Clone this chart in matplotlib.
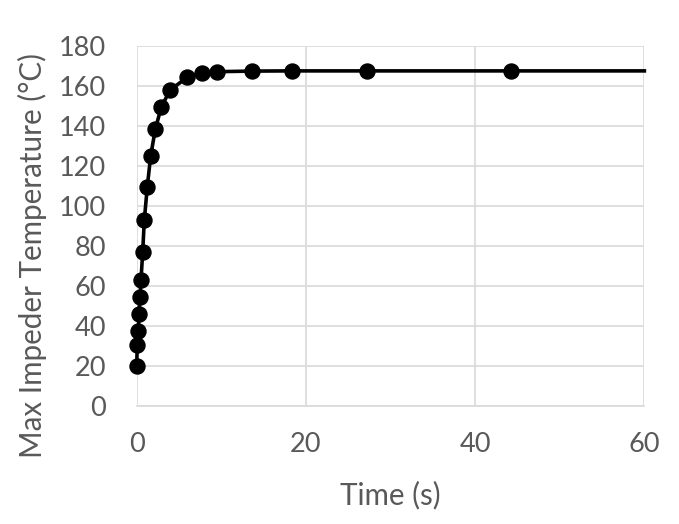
import matplotlib
matplotlib.use("Agg")
import matplotlib.pyplot as plt

time_s = [0.0, 0.07, 0.19, 0.27, 0.39, 0.51, 0.71, 0.9, 1.25, 1.65, 2.2, 2.9,
          3.94, 5.98, 7.68, 9.46, 13.6, 18.3, 27.2, 44.2, 60.0]
temp_c = [20.0, 30.3, 37.3, 45.7, 54.5, 62.8, 76.8, 92.7, 109.3, 124.8, 138.2,
          149.2, 157.8, 164.2, 166.2, 167.0, 167.3, 167.4, 167.4, 167.4, 167.4]
x_ticks = [0, 20, 40, 60]
y_ticks = [0, 20, 40, 60, 80, 100, 120, 140, 160, 180]

plt.rcParams['font.family'] = ['Lato', 'DejaVu Sans']
TXT = '#595959'
GRID = '#d9d9d9'
FS = 19.5
FSL = 21.3

fig = plt.figure(figsize=(6.79, 5.24), dpi=100)
ax = fig.add_axes([0.2013, 0.2258, 0.7477, 0.687])

ax.plot(time_s, temp_c, color='black', lw=2.6, marker='o', markersize=10.8,
        markevery=list(range(len(time_s) - 1)), zorder=3, clip_on=False)

ax.set_xlim(0, 60)
ax.set_ylim(0, 180)
ax.set_xticks(x_ticks)
ax.set_yticks(y_ticks)
ax.grid(True, color=GRID, lw=1.2)
ax.set_axisbelow(True)
for s in ['top', 'right', 'left']:
    ax.spines[s].set_visible(False)
ax.spines['bottom'].set_color(GRID)
ax.spines['bottom'].set_linewidth(1.2)
ax.tick_params(length=0, labelsize=FS, labelcolor=TXT)
ax.tick_params(axis='x', pad=19)
ax.tick_params(axis='y', pad=22)

fig.text(390.5 / 679, 1 - 495 / 524, 'Time (s)', fontsize=FSL, color=TXT,
         ha='center', va='center')
fig.text(32 / 679, 1 - 255 / 524, 'Max Impeder Temperature (°C)', fontsize=FSL,
         color=TXT, ha='center', va='center', rotation=90)

fig.savefig('out.png', dpi=100)
